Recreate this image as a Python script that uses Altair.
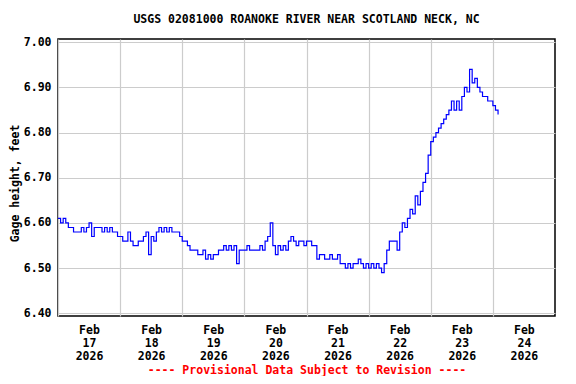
import altair as alt
import pandas as pd

# Hourly gage height readings (feet), starting Feb 17 2026 00:00
feb17 = [6.61, 6.60, 6.61, 6.60, 6.59, 6.59, 6.58, 6.58, 6.58, 6.59, 6.58, 6.59,
         6.60, 6.57, 6.59, 6.59, 6.59, 6.58, 6.59, 6.58, 6.59, 6.58, 6.58, 6.57]
feb18 = [6.57, 6.56, 6.56, 6.58, 6.56, 6.55, 6.55, 6.56, 6.56, 6.57, 6.58, 6.53,
         6.57, 6.56, 6.58, 6.59, 6.58, 6.59, 6.58, 6.59, 6.58, 6.58, 6.58, 6.57]
feb19 = [6.56, 6.56, 6.55, 6.54, 6.54, 6.54, 6.53, 6.53, 6.54, 6.52, 6.53, 6.52,
         6.53, 6.53, 6.54, 6.54, 6.55, 6.54, 6.55, 6.54, 6.55, 6.51, 6.54, 6.54]
feb20 = [6.54, 6.55, 6.54, 6.54, 6.54, 6.54, 6.55, 6.54, 6.56, 6.57, 6.60, 6.55,
         6.53, 6.55, 6.54, 6.55, 6.54, 6.56, 6.57, 6.56, 6.55, 6.56, 6.56, 6.55]
feb21 = [6.56, 6.56, 6.55, 6.55, 6.52, 6.53, 6.53, 6.52, 6.52, 6.53, 6.52, 6.52,
         6.53, 6.51, 6.51, 6.50, 6.51, 6.50, 6.51, 6.51, 6.52, 6.51, 6.50, 6.51]
feb22 = [6.50, 6.51, 6.50, 6.51, 6.50, 6.49, 6.51, 6.54, 6.56, 6.56, 6.56, 6.54,
         6.58, 6.60, 6.59, 6.61, 6.63, 6.62, 6.66, 6.64, 6.67, 6.69, 6.71, 6.75]
feb23 = [6.78, 6.79, 6.80, 6.81, 6.82, 6.83, 6.84, 6.85, 6.87, 6.85, 6.87, 6.85,
         6.88, 6.90, 6.89, 6.94, 6.91, 6.92, 6.90, 6.89, 6.88, 6.88, 6.87, 6.87]
feb24 = [6.86, 6.85, 6.84]

heights = feb17 + feb18 + feb19 + feb20 + feb21 + feb22 + feb23 + feb24
times = pd.date_range("2026-02-17 00:00", periods=len(heights), freq="h")
df = pd.DataFrame({"time": times.strftime("%Y-%m-%dT%H:%M:%S"), "height": heights})

tick_days = [17, 18, 19, 20, 21, 22, 23, 24]
y_ticks = [6.40, 6.50, 6.60, 6.70, 6.80, 6.90, 7.00]

FONT = "DejaVu Sans Mono"

x_axis = alt.Axis(
    values=[alt.DateTime(year=2026, month=2, date=d, hours=0) for d in tick_days],
    labelExpr="[timeFormat(datum.value, '%b'), timeFormat(datum.value, '%d'), timeFormat(datum.value, '%Y')]",
    labelOffset=31,
    labelLineHeight=13.3,
    labelPadding=8,
    labelAlign="center",
    labelBaseline="top",
    labelFlush=False,
    labelOverlap=False,
    title="---- Provisional Data Subject to Revision ----",
    titleColor="#ff0000",
    titleY=57,
    titleBaseline="alphabetic",
)

y_axis = alt.Axis(
    values=y_ticks,
    format=".2f",
    labelPadding=7,
    title="Gage height, feet",
    titleX=-40,
    titleY=144,
    titleAngle=270,
    titleAlign="center",
    titleBaseline="alphabetic",
)

chart = (
    alt.Chart(df)
    .mark_line(interpolate="step-after", color="#0000ff", strokeWidth=1.2, clip=True)
    .encode(
        x=alt.X(
            "time:T",
            scale=alt.Scale(
                domain=[
                    alt.DateTime(year=2026, month=2, date=17, hours=0),
                    alt.DateTime(year=2026, month=2, date=25, hours=0),
                ],
                nice=False,
            ),
            axis=x_axis,
        ),
        y=alt.Y(
            "height:Q",
            scale=alt.Scale(domain=[6.394, 7.0073], nice=False, zero=False),
            axis=y_axis,
        ),
    )
    .properties(
        width=497,
        height=277,
        autosize=alt.AutoSizeParams(type="none"),
        padding={"left": 50, "top": 31, "right": 13, "bottom": 60},
        title=alt.TitleParams(
            text="USGS 02081000 ROANOKE RIVER NEAR SCOTLAND NECK, NC",
            font=FONT,
            fontSize=11.5,
            fontWeight="bold",
            color="black",
            anchor="middle",
            frame="group",
            offset=11,
        ),
    )
    .configure_view(stroke="black", strokeWidth=1.5)
    .configure_axis(
        labelFont=FONT,
        labelFontSize=11.5,
        labelFontWeight="bold",
        labelColor="black",
        titleFont=FONT,
        titleFontSize=11.5,
        titleFontWeight="bold",
        titleColor="black",
        gridColor="#cccccc",
        gridWidth=1.2,
        ticks=False,
        domain=False,
    )
    .configure_axisY(titleColor="black")
)

chart.save("out.html", embed_options={"renderer": "svg", "actions": False})
